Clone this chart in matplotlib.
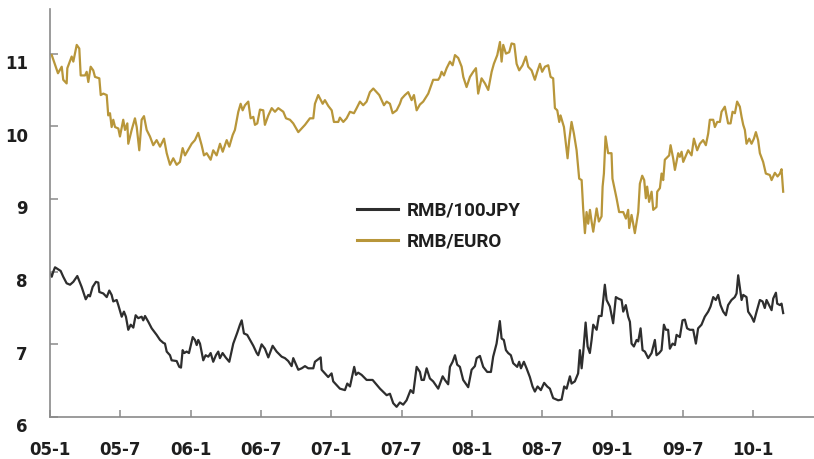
import matplotlib
matplotlib.use("Agg")
import matplotlib.pyplot as plt
import matplotlib.transforms as mtransforms

# x values: months elapsed since January 2005
jpy_month = [0.00, 0.15, 0.28, 0.43, 0.71, 0.91, 1.13, 1.42, 1.71, 1.99, 2.33, 2.70, 3.05, 3.27, 3.41, 3.64,
             3.92, 4.12, 4.21, 4.55, 4.84, 5.06, 5.26, 5.40, 5.69, 5.83, 6.12, 6.31, 6.48, 6.68, 6.89, 7.11,
             7.31, 7.53, 7.82, 7.96, 8.11, 8.39, 8.68, 9.10, 9.39, 9.67, 9.81, 9.96, 10.24, 10.38, 10.81, 11.03,
             11.18, 11.32, 11.46, 11.66, 11.86, 12.18, 12.37, 12.52, 12.65, 12.80, 13.08, 13.28, 13.51, 13.71,
             13.93, 14.16, 14.36, 14.50, 14.73, 14.99, 15.30, 15.64, 15.98, 16.21, 16.36, 16.55, 16.83, 17.35,
             17.64, 17.77, 18.06, 18.34, 18.63, 19.00, 19.34, 19.77, 20.05, 20.33, 20.62, 20.76, 21.19, 21.48,
             21.76, 22.04, 22.47, 22.61, 23.10, 23.18, 23.74, 24.03, 24.17, 24.74, 25.17, 25.37, 25.60, 25.96,
             26.11, 26.30, 26.59, 27.02, 27.53, 28.16, 28.73, 29.01, 29.29, 29.58, 29.86, 30.14, 30.43, 30.77,
             31.00, 31.29, 31.57, 31.71, 31.91, 32.14, 32.42, 32.70, 33.13, 33.51, 33.70, 33.98, 34.13, 34.36,
             34.56, 34.75, 34.98, 35.26, 35.69, 35.98, 36.26, 36.41, 36.69, 36.97, 37.31, 37.63, 37.82, 38.11,
             38.39, 38.54, 38.73, 38.91, 39.10, 39.33, 39.53, 39.87, 40.04, 40.19, 40.44, 40.67, 40.95, 41.18,
             41.38, 41.61, 41.89, 42.17, 42.43, 42.66, 42.94, 43.37, 43.66, 43.88, 44.09, 44.37, 44.51, 44.79,
             45.07, 45.22, 45.37, 45.50, 45.71, 45.88, 46.07, 46.22, 46.36, 46.65, 46.84, 47.07, 47.35, 47.50,
             47.78, 48.06, 48.29, 48.49, 48.78, 48.92, 49.14, 49.34, 49.49, 49.63, 49.83, 50.06, 50.20, 50.40,
             50.57, 50.77, 51.05, 51.34, 51.62, 51.76, 51.99, 52.19, 52.39, 52.56, 52.75, 52.90, 53.13, 53.33,
             53.47, 53.75, 53.98, 54.18, 54.37, 54.60, 54.89, 55.12, 55.31, 55.60, 55.88, 56.17, 56.37, 56.60,
             56.82, 57.02, 57.22, 57.45, 57.68, 57.87, 58.16, 58.44, 58.59, 58.73, 58.87, 59.02, 59.16, 59.44,
             59.58, 59.87, 60.07, 60.30, 60.58, 60.81, 61.00, 61.15, 61.37, 61.58, 61.72, 61.95, 62.06, 62.29,
             62.43, 62.57]
rmb_100jpy = [7.98, 7.93, 8.00, 8.06, 8.03, 8.01, 7.93, 7.84, 7.82, 7.86, 7.94, 7.79, 7.62, 7.68, 7.66, 7.79,
              7.86, 7.85, 7.72, 7.70, 7.65, 7.74, 7.68, 7.59, 7.61, 7.54, 7.38, 7.45, 7.38, 7.20, 7.27, 7.23,
              7.40, 7.36, 7.38, 7.33, 7.39, 7.31, 7.22, 7.13, 7.06, 7.02, 7.01, 6.90, 6.85, 6.78, 6.77, 6.69,
              6.68, 6.92, 6.88, 6.90, 6.88, 7.10, 7.06, 6.99, 7.06, 7.01, 6.78, 6.85, 6.83, 6.88,
              6.76, 6.85, 6.90, 6.81, 6.88, 6.82, 6.76, 7.01, 7.16, 7.27, 7.33, 7.15, 7.13, 6.98,
              6.88, 6.85, 7.00, 6.94, 6.82, 6.98, 6.90, 6.83, 6.81, 6.77, 6.70, 6.81, 6.65, 6.67,
              6.70, 6.67, 6.67, 6.76, 6.82, 6.65, 6.55, 6.60, 6.49, 6.39, 6.37, 6.46, 6.42, 6.69,
              6.58, 6.61, 6.58, 6.51, 6.51, 6.39, 6.30, 6.32, 6.19, 6.14, 6.20, 6.17, 6.23, 6.37,
              6.33, 6.69, 6.62, 6.51, 6.51, 6.67, 6.53, 6.49, 6.39, 6.56, 6.51, 6.45, 6.69, 6.76,
              6.85, 6.72, 6.69, 6.51, 6.41, 6.65, 6.70, 6.81, 6.84, 6.69, 6.62, 6.62, 6.83, 7.01,
              7.32, 7.08, 7.06, 6.92, 6.88, 6.85, 6.74, 6.69, 6.76, 6.67, 6.76, 6.67, 6.55, 6.42,
              6.35, 6.42, 6.37, 6.47, 6.42, 6.39, 6.26, 6.23, 6.24, 6.42, 6.39, 6.56, 6.46, 6.49,
              6.60, 6.92, 6.67, 6.88, 7.30, 6.97, 6.88, 7.06, 7.27, 7.20, 7.39, 7.39, 7.82, 7.61,
              7.52, 7.29, 7.65, 7.63, 7.61, 7.45, 7.54, 7.38, 7.31, 7.01, 6.97, 7.06, 7.04, 7.22,
              6.92, 6.90, 6.81, 6.88, 7.06, 6.85, 6.88, 6.92, 7.27, 7.20, 7.20, 6.94, 7.01, 6.99,
              7.13, 7.10, 7.33, 7.34, 7.22, 7.20, 7.20, 7.01, 7.22, 7.27, 7.38, 7.45, 7.52, 7.65,
              7.61, 7.68, 7.54, 7.45, 7.40, 7.54, 7.61, 7.65, 7.70, 7.95, 7.79, 7.61, 7.68, 7.65,
              7.45, 7.38, 7.31, 7.45, 7.61, 7.59, 7.50, 7.61, 7.54, 7.47, 7.63, 7.71, 7.56, 7.54,
              7.56, 7.43]

euro_month = [0.15, 0.68, 1.00, 1.13, 1.42, 1.48, 1.85, 1.99, 2.28, 2.50, 2.62, 2.99, 3.13, 3.27, 3.47, 3.69,
              3.84, 4.21, 4.33, 4.55, 4.84, 4.97, 5.12, 5.26, 5.40, 5.55, 5.83, 5.97, 6.25, 6.40, 6.60, 6.68,
              6.97, 7.25, 7.40, 7.62, 7.82, 8.02, 8.25, 8.53, 8.81, 9.10, 9.39, 9.73, 9.96, 10.24, 10.52, 10.81,
              11.09, 11.32, 11.52, 11.80, 12.09, 12.37, 12.65, 12.94, 13.14, 13.37, 13.71, 13.93, 14.22, 14.51,
              14.74, 15.08, 15.30, 15.59, 15.78, 16.07, 16.27, 16.44, 16.64, 16.92, 17.12, 17.35, 17.49, 17.69,
              17.92, 18.20, 18.34, 18.63, 18.92, 19.20, 19.48, 19.91, 20.14, 20.48, 20.76, 21.19, 21.48, 21.76,
              22.18, 22.47, 22.61, 22.89, 23.27, 23.46, 23.75, 24.04, 24.23, 24.60, 24.74, 25.03, 25.31, 25.60,
              25.94, 26.17, 26.45, 26.73, 27.02, 27.30, 27.59, 27.88, 28.10, 28.30, 28.50, 28.73, 29.01, 29.24,
              29.58, 29.86, 30.01, 30.29, 30.57, 30.86, 31.06, 31.29, 31.57, 31.85, 32.28, 32.70, 33.13, 33.28,
              33.42, 33.62, 33.85, 34.13, 34.36, 34.56, 34.84, 35.13, 35.27, 35.55, 35.84, 36.12, 36.35, 36.54,
              36.83, 37.12, 37.40, 37.69, 37.88, 38.17, 38.40, 38.54, 38.68, 38.91, 39.19, 39.39, 39.62, 39.82,
              40.04, 40.33, 40.61, 40.81, 41.10, 41.38, 41.58, 41.81, 42.00, 42.24, 42.52, 42.72, 42.94, 43.09,
              43.29, 43.46, 43.57, 43.86, 44.03, 44.17, 44.31, 44.51, 44.71, 44.94, 45.16, 45.37, 45.50, 45.65,
              45.79, 45.93, 46.08, 46.22, 46.36, 46.65, 46.84, 47.07, 47.16, 47.27, 47.41, 47.63, 47.92, 48.00,
              48.21, 48.35, 48.57, 48.92, 49.15, 49.34, 49.43, 49.63, 49.77, 49.91, 50.20, 50.34, 50.54, 50.71,
              50.85, 50.96, 51.13, 51.34, 51.48, 51.76, 51.82, 52.05, 52.19, 52.33, 52.47, 52.84, 52.96, 53.18,
              53.33, 53.61, 53.75, 53.90, 54.04, 54.46, 54.75, 54.95, 55.23, 55.46, 55.74, 55.97, 56.17, 56.31,
              56.60, 56.74, 56.94, 57.17, 57.31, 57.59, 57.74, 57.87, 58.08, 58.25, 58.45, 58.64, 58.87, 59.02,
              59.16, 59.30, 59.44, 59.67, 59.87, 60.07, 60.24, 60.43, 60.58, 60.86, 61.09, 61.43, 61.58, 61.86,
              62.09, 62.29, 62.43, 62.57]
rmb_euro = [10.98, 10.73, 10.82, 10.64, 10.59, 10.80, 10.96, 10.89, 11.12, 11.07, 10.70, 10.70, 10.75, 10.61, 10.82, 10.77,
            10.68, 10.66, 10.43, 10.45, 10.43, 10.15, 10.18, 9.99, 10.09, 9.99, 9.97, 9.86, 10.09, 9.95, 10.04, 9.76,
            9.95, 10.11, 9.99, 9.67, 10.09, 10.14, 9.95, 9.86, 9.74, 9.81, 9.72, 9.83, 9.63, 9.47, 9.56, 9.47,
            9.51, 9.70, 9.60, 9.68, 9.76, 9.81, 9.91, 9.74, 9.60, 9.63, 9.54, 9.67, 9.60, 9.76,
            9.65, 9.81, 9.72, 9.88, 9.95, 10.20, 10.31, 10.22, 10.29, 10.34, 10.11, 10.13, 10.02, 10.04,
            10.23, 10.22, 10.02, 10.15, 10.25, 10.20, 10.25, 10.20, 10.11, 10.09, 10.04, 9.92, 9.97, 10.02,
            10.11, 10.11, 10.31, 10.43, 10.31, 10.36, 10.28, 10.22, 10.06, 10.06, 10.12, 10.06, 10.11, 10.20,
            10.18, 10.25, 10.34, 10.29, 10.34, 10.47, 10.52, 10.47, 10.43, 10.36, 10.29, 10.34, 10.31, 10.18,
            10.22, 10.31, 10.38, 10.43, 10.47, 10.36, 10.43, 10.22, 10.30, 10.34, 10.45, 10.64, 10.64, 10.68,
            10.75, 10.70, 10.80, 10.89, 10.84, 10.98, 10.94, 10.82, 10.68, 10.54, 10.68, 10.75, 10.80, 10.45,
            10.66, 10.59, 10.50, 10.75, 10.86, 10.98, 11.16, 10.89, 11.12, 11.00, 11.02, 11.14, 11.13, 10.86,
            10.77, 10.84, 10.96, 10.82, 10.77, 10.64, 10.75, 10.86, 10.75, 10.82, 10.84, 10.68, 10.66, 10.25,
            10.22, 10.06, 10.15, 9.99, 9.76, 9.56, 9.81, 10.06, 9.90, 9.67, 9.28, 9.26, 8.87, 8.53,
            8.82, 8.66, 8.85, 8.69, 8.55, 8.87, 8.69, 8.76, 9.17, 9.35, 9.86, 9.63, 9.63, 9.28,
            9.12, 9.01, 8.82, 8.82, 8.73, 8.85, 8.60, 8.78, 8.66, 8.53, 8.82, 9.21, 9.32, 9.26,
            9.01, 9.17, 8.96, 9.10, 8.85, 8.89, 9.10, 9.15, 9.35, 9.26, 9.54, 9.60, 9.74, 9.56,
            9.40, 9.63, 9.58, 9.65, 9.51, 9.67, 9.60, 9.83, 9.67, 9.76, 9.81, 9.74, 9.90, 10.09,
            10.09, 9.99, 10.06, 10.06, 10.20, 10.27, 10.15, 10.04, 10.04, 10.20, 10.18, 10.34, 10.27, 10.13,
            10.02, 9.95, 9.76, 9.83, 9.76, 9.83, 9.92, 9.81, 9.63, 9.51, 9.35, 9.33, 9.26, 9.36,
            9.31, 9.35, 9.41, 9.10]

tick_months = [0, 6, 12, 18, 24, 30, 36, 42, 48, 54, 60]
tick_labels = ["05-1", "05-7", "06-1", "06-7", "07-1", "07-7", "08-1", "08-7", "09-1", "09-7", "10-1"]
y_ticks = [6, 7, 8, 9, 10, 11]
series_names = ["RMB/100JPY", "RMB/EURO"]

JPY_COLOR = "#2e2e2e"
EURO_COLOR = "#b8963a"
TEXT_COLOR = "#1e1e1e"
AXIS_COLOR = "#8a8a8a"

fig = plt.figure(figsize=(8.14, 4.59), dpi=100)
ax = fig.add_axes([50 / 814, 1 - 417 / 459, 1 - 50 / 814, (417 - 9.3) / 459])

ax.plot(jpy_month, rmb_100jpy, color=JPY_COLOR, lw=1.6, label=series_names[0], solid_joinstyle="round")
ax.plot(euro_month, rmb_euro, color=EURO_COLOR, lw=1.6, label=series_names[1], solid_joinstyle="round")

ax.set_xlim(0, 65.2)
ax.set_ylim(6, 11.61)

for side in ("top", "right"):
    ax.spines[side].set_visible(False)
for side in ("left", "bottom"):
    ax.spines[side].set_color(AXIS_COLOR)
    ax.spines[side].set_linewidth(1.2)

ax.set_xticks(tick_months)
ax.set_xticklabels(tick_labels)
ax.set_yticks(y_ticks)
ax.set_yticklabels([str(v) for v in y_ticks])

ax.tick_params(axis="x", direction="in", length=5, width=1.1, color=AXIS_COLOR,
               pad=17, labelsize=12, labelcolor=TEXT_COLOR)
ax.tick_params(axis="y", direction="in", length=6, width=1.1, color=AXIS_COLOR,
               pad=16, labelsize=12, labelcolor=TEXT_COLOR)
for lab in ax.get_xticklabels() + ax.get_yticklabels():
    lab.set_fontweight("bold")
    lab.set_family("DejaVu Sans")

offset = mtransforms.ScaledTranslation(0, -6 / 72, fig.dpi_scale_trans)
for lab in ax.get_yticklabels():
    lab.set_transform(lab.get_transform() + offset)

leg = ax.legend(loc="upper left", bbox_to_anchor=(357 / 814, 1 - 202 / 459),
                bbox_transform=fig.transFigure, frameon=False, borderpad=0, borderaxespad=0,
                handlelength=2.2, handletextpad=0.45, labelspacing=0.68,
                prop={"family": "Roboto", "weight": "bold", "size": 13.5})
for t in leg.get_texts():
    t.set_color(TEXT_COLOR)
for h in leg.get_lines():
    h.set_linewidth(2.2)

fig.savefig("out.png", dpi=100)
